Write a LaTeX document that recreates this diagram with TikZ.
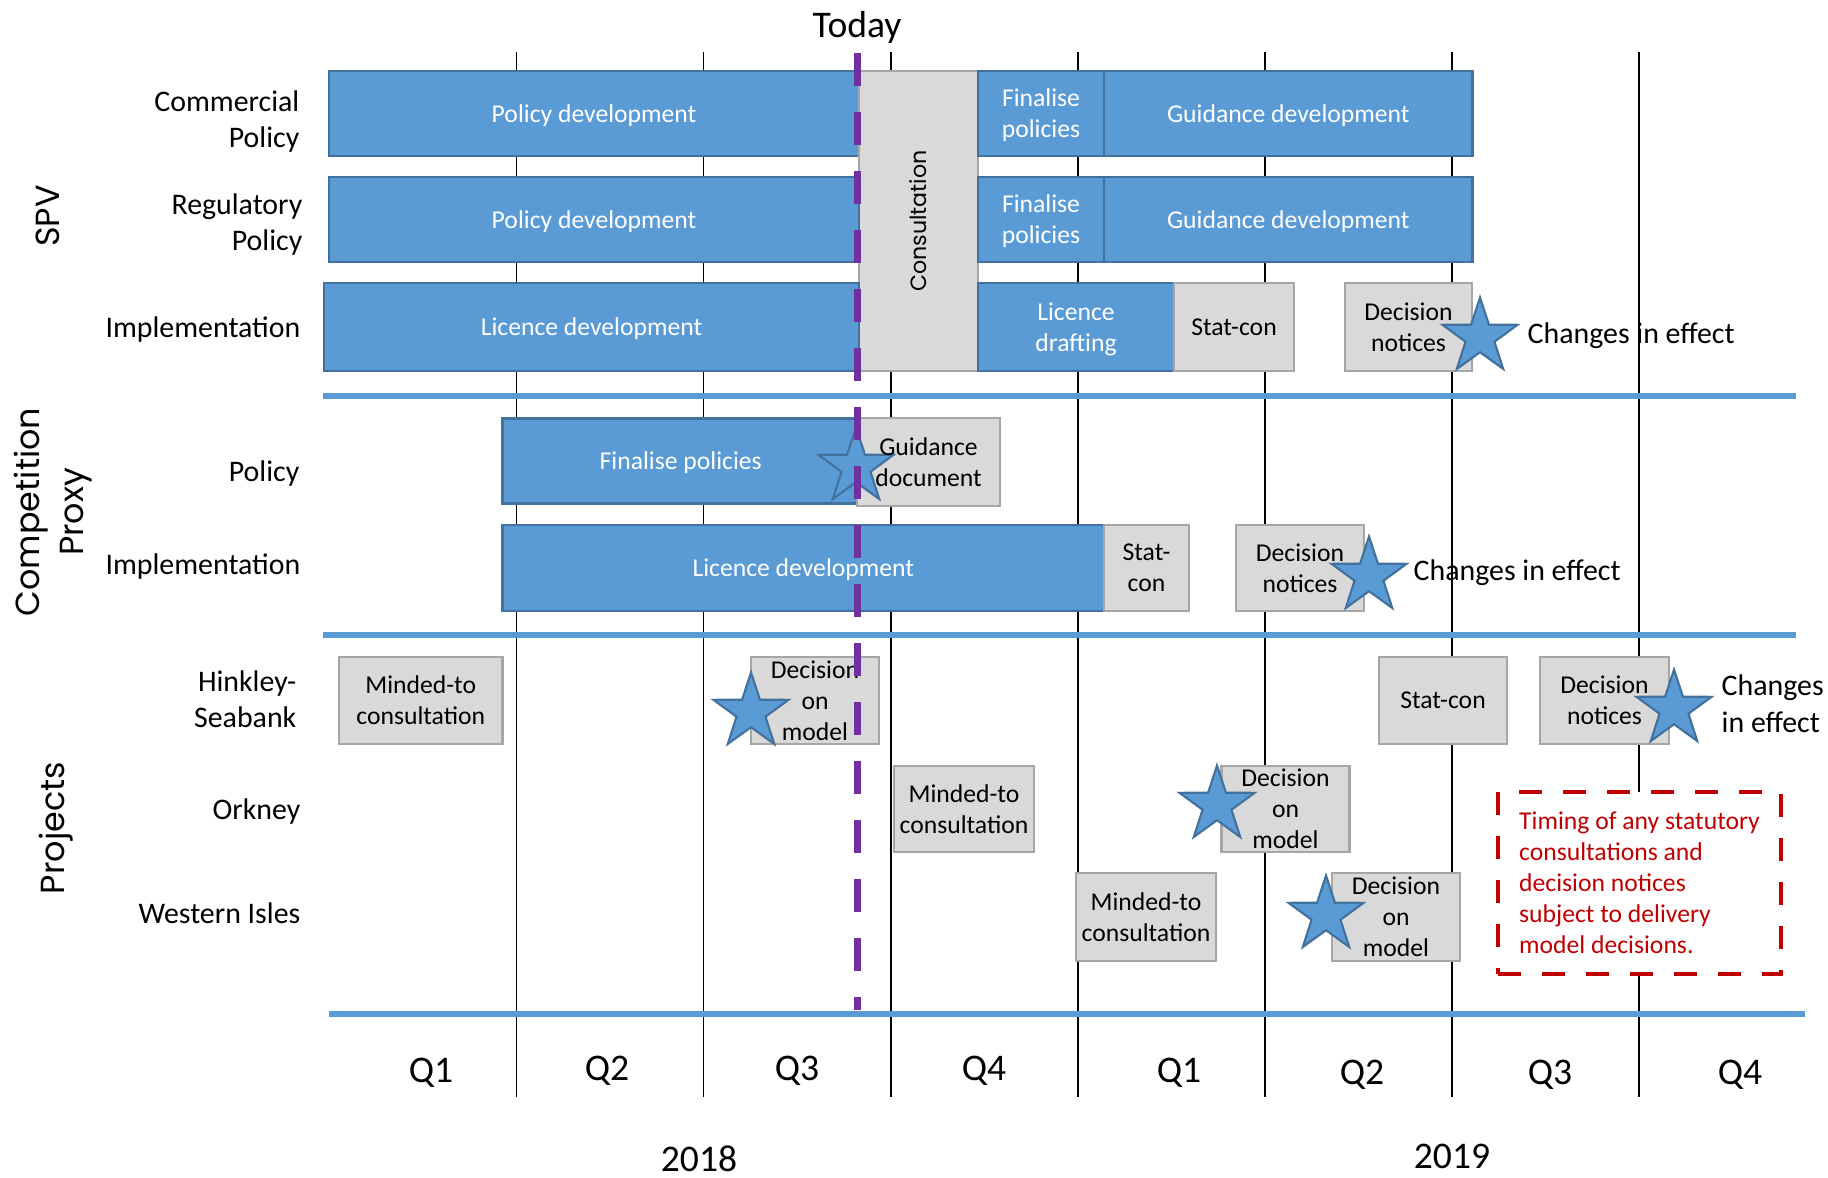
\documentclass[tikz,border=0pt]{standalone}
\usepackage{fontspec}
\setmainfont{Carlito}
\newfontfamily\gothic{Poppins}
\usetikzlibrary{shapes.geometric}

\definecolor{barblue}{HTML}{5B9BD5}
\definecolor{barline}{HTML}{41719C}
\definecolor{boxgray}{HTML}{D9D9D9}
\definecolor{boxline}{HTML}{A6A6A6}
\definecolor{todaypurple}{HTML}{7030A0}
\definecolor{notered}{HTML}{C00000}

\begin{document}
\begin{tikzpicture}[
    every node/.style={font=\fontsize{7.3}{8.8}\selectfont, inner sep=0pt, text depth=0pt, align=center},
    bluebar/.style={draw=barline, fill=barblue, text=white, line width=0.6pt},
    graybox/.style={draw=boxline, fill=boxgray, line width=0.6pt},
    rowlabel/.style={anchor=east, align=right, font=\fontsize{8.5}{10.2}\selectfont},
    grouplabel/.style={rotate=90, font=\gothic\fontsize{9.5}{12.5}\selectfont},
    quarter/.style={font=\fontsize{10.7}{12}\selectfont},
    effect/.style={anchor=west, align=left, font=\fontsize{8.5}{10.4}\selectfont},
    milestone/.style={star, star points=5, star point ratio=2.6, minimum size=0.79cm,
        fill=barblue, draw=barline, line width=0.6pt}
]
            \useasboundingbox (0,0) rectangle (18.28,-11.77);

            \foreach \k in {1,...,7}
                \draw[line width=0.5pt] ({3.294+1.871*\k},-0.52) -- ({3.294+1.871*\k},-10.97);

            \draw[barblue, line width=1.7pt] (3.23,-3.964) -- (17.96,-3.964);
            \draw[barblue, line width=1.7pt] (3.23,-6.354) -- (17.96,-6.354);
            \draw[barblue, line width=1.7pt] (3.29,-10.143) -- (18.05,-10.143);

            \node[grouplabel] (grpspv) at (0.48,-2.16) {SPV};
            \node[grouplabel] (grpcp) at (0.49,-5.12) {Competition\\Proxy};
            \node[grouplabel] (grpproj) at (0.52,-8.28) {Projects};

            \node[rowlabel] (lblcomm) at (3.00,-1.195) {Commercial\\Policy};
            \node[rowlabel] (lblreg) at (3.03,-2.22) {Regulatory\\Policy};
            \node[rowlabel] (lblimpl) at (3.01,-3.276) {Implementation};
            \node[rowlabel] (lblcppol) at (3.00,-4.71) {Policy};
            \node[rowlabel] (lblcpimpl) at (3.01,-5.64) {Implementation};
            \node[rowlabel] (lblhink) at (2.97,-6.99) {Hinkley-\\Seabank};
            \node[rowlabel] (lblork) at (3.01,-8.09) {Orkney};
            \node[rowlabel] (lblwest) at (3.01,-9.13) {Western Isles};

            \node[bluebar, minimum width=5.30cm, minimum height=0.85cm] (commdev) at (5.94,-1.135) {Policy development};
            \node[graybox, rotate=90, minimum width=3.00cm, minimum height=1.19cm,
                font=\gothic\fontsize{6.3}{8}\selectfont] (consult) at (9.185,-2.21) {Consultation};
            \node[bluebar, minimum width=1.26cm, minimum height=0.85cm] (commfin) at (10.41,-1.135) {Finalise\\policies};
            \node[bluebar, minimum width=3.685cm, minimum height=0.85cm] (commguide) at (12.8825,-1.135) {Guidance development};

            \node[bluebar, minimum width=5.30cm, minimum height=0.85cm] (regdev) at (5.94,-2.195) {Policy development};
            \node[bluebar, minimum width=1.26cm, minimum height=0.85cm] (regfin) at (10.41,-2.195) {Finalise\\policies};
            \node[bluebar, minimum width=3.685cm, minimum height=0.85cm] (regguide) at (12.8825,-2.195) {Guidance development};

            \node[bluebar, minimum width=5.35cm, minimum height=0.88cm] (impldev) at (5.915,-3.27) {Licence development};
            \node[bluebar, minimum width=1.96cm, minimum height=0.88cm] (impldraft) at (10.76,-3.27) {Licence\\drafting};
            \node[graybox, minimum width=1.20cm, minimum height=0.88cm] (implstat) at (12.34,-3.27) {Stat-con};
            \node[graybox, minimum width=1.27cm, minimum height=0.88cm] (impldec) at (14.085,-3.27) {Decision\\notices};
            \node[milestone] (implstar) at (14.80,-3.37) {};
            \node[effect] (impleffect) at (15.27,-3.33) {Changes in effect};

            \node[bluebar, minimum width=3.565cm, minimum height=0.85cm] (cpfin) at (6.8075,-4.61) {Finalise policies};
            \node[graybox, minimum width=1.43cm, minimum height=0.875cm] (cpguide) at (9.285,-4.62) {};
            \node[milestone] (cpstar) at (8.56,-4.67) {};
            \node (cpguidetext) at (cpguide.center) {Guidance\\document};

            \node[bluebar, minimum width=6.015cm, minimum height=0.864cm] (cplic) at (8.0325,-5.678) {Licence development};
            \node[graybox, minimum width=0.85cm, minimum height=0.864cm] (cpstat) at (11.465,-5.678) {Stat-\\con};
            \node[graybox, minimum width=1.28cm, minimum height=0.864cm] (cpdec) at (13.00,-5.678) {Decision\\notices};
            \node[milestone] (cpdecstar) at (13.69,-5.76) {};
            \node[effect] (cpeffect) at (14.13,-5.70) {Changes in effect};

            \node[graybox, minimum width=1.635cm, minimum height=0.87cm] (hsmind) at (4.2075,-7.005) {Minded-to\\consultation};
            \node[graybox, minimum width=1.28cm, minimum height=0.87cm] (hsdec) at (8.15,-7.005) {Decision\\on\\model};
            \node[milestone] (hsstar) at (7.51,-7.12) {};
            \node[graybox, minimum width=1.28cm, minimum height=0.87cm] (hsstat) at (14.43,-7.005) {Stat-con};
            \node[graybox, minimum width=1.29cm, minimum height=0.87cm] (hsnotice) at (16.045,-7.005) {Decision\\notices};
            \node[milestone] (hsnoticestar) at (16.74,-7.09) {};
            \node[effect] (hseffect) at (17.21,-7.035) {Changes\\in effect};

            \node[graybox, minimum width=1.40cm, minimum height=0.86cm] (okmind) at (9.64,-8.09) {Minded-to\\consultation};
            \node[graybox, minimum width=1.28cm, minimum height=0.86cm] (okdec) at (12.855,-8.09) {Decision\\on\\model};
            \node[milestone] (okstar) at (12.17,-8.05) {};

            \node[graybox, minimum width=1.40cm, minimum height=0.88cm] (wimind) at (11.46,-9.17) {Minded-to\\consultation};
            \node[graybox, minimum width=1.28cm, minimum height=0.88cm] (widec) at (13.96,-9.17) {Decision\\on\\model};
            \node[milestone] (wistar) at (13.26,-9.15) {};

            \node[draw=notered, fill=white, line width=1.4pt, dash pattern=on 0.23cm off 0.21cm,
                minimum width=2.83cm, minimum height=1.82cm, align=left, text=notered] (note) at (16.395,-8.83)
                {Timing of any statutory\\consultations and\\decision notices\\subject to delivery\\model decisions.};

            \node[font=\fontsize{10.7}{12}\selectfont] (today) at (8.57,-0.245) {Today};
            \coordinate (todaytop) at (8.57,-0.53);
            \coordinate (todaybot) at (8.57,-10.10);
            \draw[todaypurple, line width=2pt, dash pattern=on 0.33cm off 0.26cm] (todaytop) -- (todaybot);

            \foreach \q/\x/\y [count=\k] in {Q1/4.31/10.70, Q2/6.07/10.68, Q3/7.97/10.68, Q4/9.84/10.68,
                    Q1/11.79/10.70, Q2/13.62/10.72, Q3/15.50/10.72, Q4/17.40/10.72}
                \node[quarter] (q\k) at (\x,-\y) {\q};
            \node[quarter] (yr2018) at (6.99,-11.59) {2018};
            \node[quarter] (yr2019) at (14.52,-11.56) {2019};
        \end{tikzpicture}
\end{document}
